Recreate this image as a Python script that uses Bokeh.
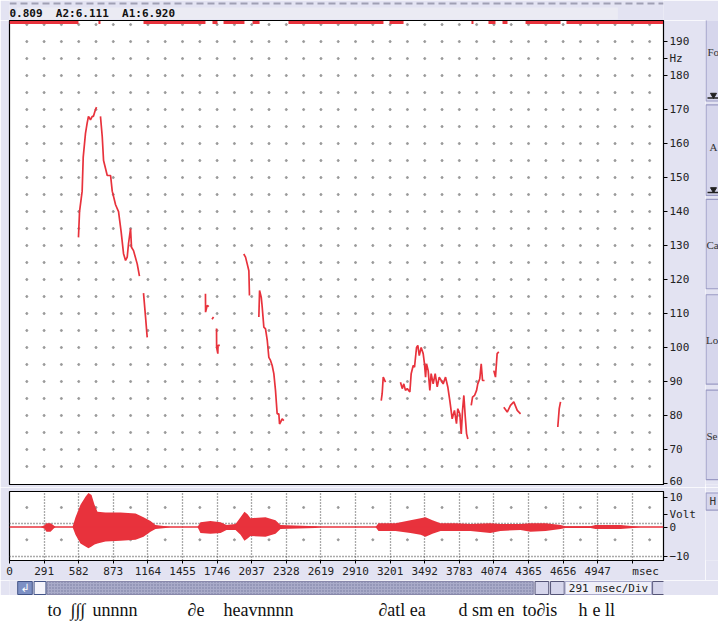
import numpy as np
from bokeh.plotting import figure
from bokeh.layouts import column, row
from bokeh.models import Range1d, FixedTicker, Span
from bokeh.core.properties import value
from bokeh.embed import file_html
from bokeh.resources import INLINE

# ---------------- data ----------------
header_text = "0.809\u00a0\u00a0A2:6.111\u00a0\u00a0A1:6.920"

pitch_ticks = [60, 70, 80, 90, 100, 110, 120, 130, 140, 150, 160, 170, 180, 185, 190]
pitch_tick_labels = {185: "Hz"}
time_ticks = [0, 291, 582, 873, 1164, 1455, 1746, 2037, 2328, 2619, 2910, 3201,
              3492, 3783, 4074, 4365, 4656, 4947, 5238]
time_tick_labels = {5238: "\u00a0\u00a0\u00a0\u00a0msec"}
volt_ticks = [10, 4.3, 0, -10]
volt_tick_labels = {4.3: "Volt"}

# pitch track (ms, Hz), one list per voiced stretch
seg01_t = [580, 589, 611, 620, 639, 653, 664, 681, 696, 706, 723, 732]
seg01_hz = [132.4, 140, 146, 156, 163, 166, 168, 167, 168, 168, 170, 170.7]
seg02_t = [765, 780, 791, 822, 850, 864, 892, 917, 939, 959, 976, 990, 1001, 1018,
           1026, 1043, 1074, 1093]
seg02_hz = [168, 162, 155, 150.6, 150.6, 146, 142, 140, 134, 127.6, 125.6, 126.6,
            130.6, 135, 129.5, 128.5, 124.6, 121]
seg03_t = [1127, 1144, 1158]
seg03_hz = [116, 109, 103]
seg04_t = [1648, 1649, 1663, 1676]
seg04_hz = [115.8, 110.4, 112.4, 112]
seg05_t = [1703, 1716]
seg05_hz = [108.3, 109]
seg06_t = [1741, 1742, 1752, 1753, 1769]
seg06_hz = [105.6, 100, 98.2, 100.6, 100.6]
seg07_t = [1970, 1985, 1999, 2013, 2018]
seg07_hz = [127.5, 126.6, 124.6, 122.6, 115.3]
seg08_t = [2097, 2103, 2117, 2125, 2139, 2153, 2168, 2181, 2195, 2209, 2223, 2237,
           2251, 2265, 2271, 2279, 2293, 2307]
seg08_hz = [109, 116.8, 114.8, 112, 106, 105.5, 102, 97.1, 96.2, 94.7, 92.3, 87.4,
            80.5, 80.5, 77.5, 78, 79, 78.5]
seg09_t = [3126, 3134, 3143, 3162]
seg09_hz = [84.4, 86.4, 91.3, 89.8]
seg10_t = [3288, 3303, 3316, 3330, 3345, 3367, 3378, 3395, 3406, 3423, 3434, 3446,
           3462, 3479, 3490, 3499, 3507, 3521, 3535, 3546, 3563, 3580, 3597, 3614,
           3631, 3647, 3667, 3686, 3703, 3723, 3742, 3759, 3770, 3787, 3799, 3810,
           3821, 3833, 3844, 3855]
seg10_hz = [89.8, 87.9, 89.3, 87.4, 87.9, 86.9, 92.3, 94.7, 94.2, 100, 100.6, 97.6,
            100, 98.2, 95.2, 91.3, 95.2, 93.2, 87.4, 92.3, 89.3, 92.3, 88.4, 91.3,
            90.3, 89.3, 91.3, 88.4, 84.4, 79, 81.5, 77.6, 82, 80.5, 74.6, 81.5,
            85.9, 79.5, 74.6, 73.1]
seg11_t = [3883, 3894, 3911, 3928, 3938, 3955, 3967, 3978, 3995]
seg11_hz = [83, 85.4, 85.9, 87.4, 89.3, 90.8, 95.2, 90.3, 90.3]
seg12_t = [4073, 4087, 4101, 4115]
seg12_hz = [93.2, 91.3, 98.2, 98.7]
seg13_t = [4157, 4186, 4213, 4241, 4270, 4298]
seg13_hz = [82.4, 81, 83, 84, 81.5, 80.5]
seg14_t = [4611, 4623, 4634]
seg14_hz = [76.6, 82, 84]

# unvoiced stretches marked along the top edge (ms)
unvoiced_start = [0, 748, 1127, 1707, 1800, 2044, 2346, 3196, 3885, 4028, 4146, 4340, 4684]
unvoiced_end = [580, 765, 1648, 1749, 1976, 2103, 3145, 3314, 3902, 4087, 4188, 4634, 5500]

# waveform envelope (ms, volts)
wave_t = [0, 261, 294, 311, 345, 370, 387, 530, 555, 597, 639, 664, 690, 715, 740,
          807, 934, 1060, 1127, 1186, 1228, 1312, 1354, 1581, 1606, 1690, 1775, 1825,
          1901, 1943, 1976, 2002, 2027, 2153, 2237, 2279, 2573, 2616, 3078, 3103,
          3246, 3372, 3457, 3499, 3557, 3625, 3751, 3877, 4043, 4129, 4297, 4381,
          4508, 4634, 4676, 4886, 4928, 5139, 5248, 5307, 5500]
wave_hi = [0, 0, 0.6, 1.3, 1.3, 0.6, 0, 0, 3.3, 7.5, 10.2, 11.5, 10.8, 7.5, 5.2,
           4.9, 4.9, 4.6, 3.3, 2.0, 0.7, 0.3, 0, 0, 1.6, 2.0, 1.6, 0.7,
           1.0, 3.3, 5.2, 4.3, 3.0, 3.3, 2.3, 0.7, 0.3, 0, 0, 1.3,
           1.3, 2.3, 3.0, 3.3, 2.3, 1.3, 1.3, 1.0, 1.3, 1.0, 1.0, 1.3,
           1.3, 0.7, 0.3, 0.3, 0.7, 0.7, 0.3, 0, 0]
wave_lo = [0, 0, -0.6, -1.6, -1.6, -0.6, 0, 0, -2.6, -5.6, -6.6, -7.2, -6.6, -5.9, -5.6,
           -4.9, -4.6, -4.3, -3.3, -1.6, -0.7, -0.3, 0, 0, -2.0, -2.3, -2.0, -1.0,
           -1.0, -2.6, -4.6, -3.9, -3.0, -3.3, -2.3, -0.7, -0.3, 0, 0, -1.3,
           -1.3, -2.0, -2.6, -3.3, -2.3, -1.3, -1.3, -1.3, -2.0, -1.3, -1.0, -1.6,
           -1.3, -0.7, -0.3, -0.3, -0.7, -0.7, -0.3, 0, 0]

# transcript words and their start times (ms)
words = ["to", "\u222b\u222b\u222b", "unnnn", "\u2202e", "heavnnnn", "\u2202atl ea",
         "d sm en", "to\u2202is", "h", "e ll"]
word_t = [320, 513, 698, 1497, 1800, 3103, 3776, 4314, 4785, 4903]

button_labels = ["Fo", "A", "Ca", "Lo", "Se"]

# ---------------- style ----------------
RED = "#e8323c"
LAV = "#e3e3f2"
BTN = "#d6d6ec"
MONO = "DejaVu Sans Mono"
SERIF = "Liberation Serif"
T_END = 5500


def chrome(width, height, xr, yr, bg=LAV):
    f = figure(width=width, height=height, x_range=Range1d(*xr), y_range=Range1d(*yr),
               x_axis_location=None, y_axis_location=None, toolbar_location=None,
               output_backend="svg", min_border=0, background_fill_color=bg,
               border_fill_color=bg, outline_line_color=None)
    f.grid.visible = False
    return f


def style_axis(ax, ticks, overrides, tick_out):
    ax.ticker = FixedTicker(ticks=ticks)
    ax.major_label_overrides = overrides
    ax.major_tick_out = tick_out
    ax.major_tick_in = 0
    ax.minor_tick_line_color = None
    ax.major_label_text_font = MONO
    ax.major_label_text_font_size = "11px"
    ax.major_label_text_color = "#222222"
    ax.axis_line_color = "black"


# header bar (pixel coords, y up; page y = 20 - y)
header = chrome(718, 20, (0, 718), (0, 20))
header.segment(x0=[0], y0=[17], x1=[718], y1=[17], line_color="#a0a0b4",
               line_width=2, line_dash="7 4")
header.quad(left=[8], right=[668], bottom=[1], top=[13], fill_color="#ebebf3",
            line_color=None)
header.text(x=[0], y=[7], text=[header_text], text_font=value(MONO),
            text_font_size="11px", text_baseline="middle", text_color="#111111",
            text_font_style="bold")

# pitch panel
pitch = figure(width=705, height=467, x_range=Range1d(0, T_END), y_range=Range1d(59.7, 196.2),
               x_axis_location=None, y_axis_location="right", toolbar_location=None,
               output_backend="svg", min_border_left=9, min_border_right=42,
               min_border_top=0, min_border_bottom=3, background_fill_color="white",
               border_fill_color=LAV, outline_line_color="black", outline_line_width=1.2)
pitch.grid.visible = False
style_axis(pitch.yaxis[0], pitch_ticks, pitch_tick_labels, 4)
pitch.yaxis[0].major_label_standoff = 2

dot_x = np.arange(145.5, T_END, 145.5)
dot_y = np.arange(65, 196, 5)
gx, gy = np.meshgrid(dot_x, dot_y)
pitch.scatter(gx.ravel(), gy.ravel(), marker="circle", size=2, color="#999999")

pitch.segment(x0=unvoiced_start, y0=195.6, x1=unvoiced_end, y1=195.6,
              line_color=RED, line_width=3)

segments = [(seg01_t, seg01_hz), (seg02_t, seg02_hz), (seg03_t, seg03_hz),
            (seg04_t, seg04_hz), (seg05_t, seg05_hz), (seg06_t, seg06_hz),
            (seg07_t, seg07_hz), (seg08_t, seg08_hz), (seg09_t, seg09_hz),
            (seg10_t, seg10_hz), (seg11_t, seg11_hz), (seg12_t, seg12_hz),
            (seg13_t, seg13_hz), (seg14_t, seg14_hz)]
for t, hz in segments:
    pitch.line(t, hz, line_color=RED, line_width=1.7)

# side buttons (pixel coords, page y = 487 - y)
btn = chrome(13, 467, (0, 13), (0, 467))
btn.quad(left=0.5, right=20, bottom=[386, 291, 197, 101, 5], top=[480, 382, 287, 191, 95],
         fill_color=BTN, line_color="#9a9ac4", line_width=1.2)
btn.text(x=[2, 4, 1, 0.5, 1], y=[435, 340, 241, 145, 49], text=button_labels,
         text_font=value(SERIF), text_font_size="11px", text_baseline="middle",
         text_color="#333333")
btn.scatter(x=[8, 8], y=[392, 297], marker="inverted_triangle", size=6, color="#222222")
btn.segment(x0=[2, 2], y0=[389, 294], x1=[13, 13], y1=[389, 294], line_color="#222222",
            line_width=1.5)

# waveform panel
wave = figure(width=705, height=93, x_range=Range1d(0, T_END), y_range=Range1d(-11.3, 12),
              x_axis_location="below", y_axis_location="right", toolbar_location=None,
              output_backend="svg", min_border_left=9, min_border_right=42,
              min_border_top=4, min_border_bottom=18, background_fill_color="white",
              border_fill_color=LAV, outline_line_color="black", outline_line_width=1.2)
style_axis(wave.xaxis[0], time_ticks, time_tick_labels, 3)
wave.xaxis[0].major_label_standoff = 1
style_axis(wave.yaxis[0], volt_ticks, volt_tick_labels, 4)
wave.yaxis[0].major_label_standoff = 2

wave.xgrid.ticker = FixedTicker(ticks=time_ticks[1:])
wave.xgrid.grid_line_color = "#555555"
wave.xgrid.grid_line_dash = "1 2"
wave.xgrid.grid_line_width = 1.3
wave.ygrid.ticker = FixedTicker(ticks=[1.3, -9.8])
wave.ygrid.grid_line_color = "#555555"
wave.ygrid.grid_line_dash = "1 2"
wave.ygrid.grid_line_width = 1.3

wdx = np.arange(145.5, T_END, 291.0)
wave.scatter(np.concatenate([wdx, wdx]), [6.6] * len(wdx) + [-4.3] * len(wdx),
             marker="circle", size=2, color="#999999")
wave.varea(x=wave_t, y1=wave_lo, y2=wave_hi, fill_color=RED)
wave.add_layout(Span(location=0, dimension="width", line_color=RED, line_width=1.5))

# "H" button beside the waveform (page y = 580 - y)
hbtn = chrome(13, 93, (0, 13), (0, 93))
hbtn.quad(left=[0.5], right=[20], bottom=[68], top=[91], fill_color=BTN,
          line_color="#9a9ac4", line_width=1.2)
hbtn.text(x=[4], y=[80], text=["H"], text_font=value(MONO), text_font_size="11px",
          text_baseline="middle", text_color="#333333")

# scroll bar row (pixel coords)
scroll = chrome(718, 15, (0, 718), (0, 15))
scroll.quad(left=[41], right=[575], bottom=[1], top=[14], fill_color="#a9abc9",
            line_color="#8888aa", hatch_pattern=".", hatch_color="#74769e", hatch_scale=3)
scroll.quad(left=[9], right=[25], bottom=[1], top=[14], fill_color="#7d90c4",
            line_color="#445588")
scroll.text(x=[17], y=[7.5], text=["\u21b2"], text_font=value("DejaVu Sans"),
            text_font_size="11px", text_align="center", text_baseline="middle",
            text_color="white")
scroll.quad(left=[27], right=[40], bottom=[1], top=[14], fill_color="#f4f4fb",
            line_color="#445588")
scroll.quad(left=[577, 594, 706], right=[592, 609, 720], bottom=1, top=14,
            fill_color=BTN, line_color="#555577")
scroll.quad(left=[610], right=[705], bottom=[1], top=[14], fill_color="#efeff8",
            line_color="#aaaacc")
scroll.text(x=[614], y=[7.5], text=["291 msec/Div"], text_font=value(MONO),
            text_font_size="11px", text_baseline="middle", text_color="#222222")

# transcript row
trans = figure(width=718, height=26, x_range=Range1d(0, T_END), y_range=Range1d(0, 26),
               x_axis_location=None, y_axis_location=None, toolbar_location=None,
               output_backend="svg", min_border_left=9, min_border_right=55,
               min_border_top=0, min_border_bottom=0, background_fill_color="white",
               border_fill_color="white", outline_line_color=None)
trans.grid.visible = False
trans.text(x=word_t, y=12, text=words, text_font=value(SERIF), text_font_size="18px",
           text_baseline="middle", text_color="#111111")

layout = column(header, row(pitch, btn, spacing=0), row(wave, hbtn, spacing=0),
                scroll, trans, spacing=0)

open("out.html", "w").write(file_html(layout, INLINE))
